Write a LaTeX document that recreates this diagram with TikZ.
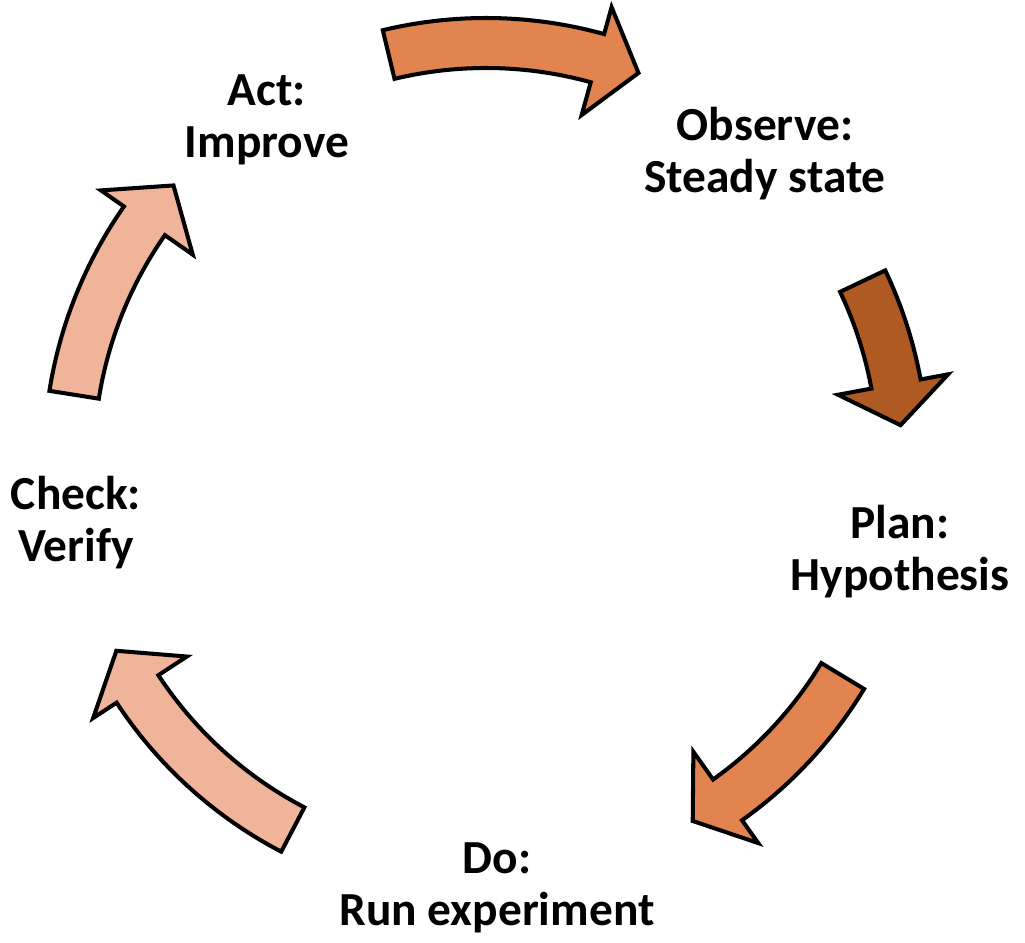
\documentclass[tikz,border=0pt]{standalone}
\usepackage{fontspec}
\setmainfont{Carlito}
\usepackage{tikz}

\definecolor{arrorange}{HTML}{E2844F}
\definecolor{arrbrown}{HTML}{AE5A22}
\definecolor{arrpeach}{HTML}{F0B49A}

% tail angle, head angle, tip angle, fill
\newcommand{\cyclearrow}[4]{%
	\filldraw[cyclearr, fill=#4] (#1:442) arc[start angle=#1, end angle=#2, radius=442]
		-- (#2:470) -- (#3:416) -- (#2:358) -- (#2:392)
		arc[start angle=#2, end angle=#1, radius=392] -- cycle;}

\begin{document}
\begin{tikzpicture}[x=0.02cm, y=0.02cm,
	stage/.style={align=center, font=\fontsize{27}{29.6}\selectfont\bfseries, inner sep=0pt},
	cyclearr/.style={draw=black, line width=2.3pt, shift={(c)}}]
	\useasboundingbox (0, 0) rectangle (1025, 943);
	\coordinate (c) at (486, 483);

	\node[stage] (act) at (267, 823) {Act:\\Improve};
	\node[stage] (observe) at (765, 789) {Observe:\\Steady state};
	\node[stage] (plan) at (900, 391) {Plan:\\Hypothesis};
	\node[stage] (do) at (497, 55) {Do:\\Run experiment};
	\node[stage] (check) at (76, 420) {Check:\\Verify};

	\cyclearrow{103.5}{74.5}{68.5}{arrorange}
	\cyclearrow{25.4}{10.5}{4.8}{arrbrown}
	\cyclearrow{-31.2}{-54.6}{-60.2}{arrorange}
	\cyclearrow{-117.6}{-146.7}{-152.7}{arrpeach}
	\cyclearrow{171}{145}{138.7}{arrpeach}
\end{tikzpicture}
\end{document}
